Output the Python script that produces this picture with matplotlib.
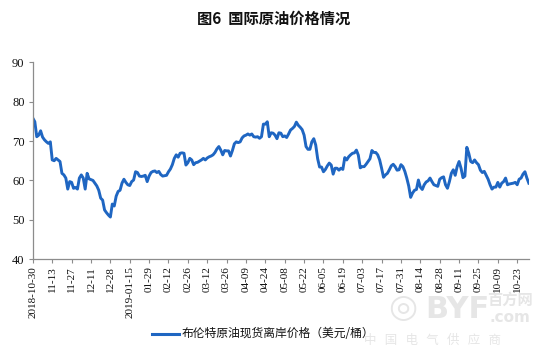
import matplotlib
matplotlib.use("Agg")
import matplotlib.pyplot as plt
from matplotlib.lines import Line2D

title = "图6  国际原油价格情况"
series_name = "布伦特原油现货离岸价格（美元/桶）"

tick_labels = ["2018-10-30", "11-13", "11-27", "12-11", "12-28", "2019-01-15",
               "01-29", "02-12", "02-26", "03-12", "03-26", "04-09", "04-24",
               "05-08", "05-22", "06-05", "06-19", "07-03", "07-17", "07-31",
               "08-14", "08-28", "09-11", "09-25", "10-09", "10-23"]
tick_step = 10

brent = [
    75.8, 74.9, 71.1, 71.5, 72.6, 71.0, 70.3, 69.8, 69.4, 69.8,
    65.2, 65.0, 65.6, 65.2, 64.8, 61.8, 61.4, 60.6, 57.8, 59.7,
    59.5, 58.0, 58.2, 57.8, 60.6, 61.4, 60.6, 57.8, 61.8, 60.4,
    60.2, 60.0, 59.3, 58.6, 57.5, 55.5, 55.0, 52.5, 51.8, 51.2,
    50.7, 54.0, 53.5, 56.0, 57.2, 57.5, 59.3, 60.3, 59.5, 58.9,
    58.7, 59.7, 60.1, 62.2, 62.0, 61.1, 61.0, 61.1, 61.3, 59.7,
    61.1, 62.0, 62.3, 62.4, 62.0, 62.3, 61.5, 61.1, 61.2, 61.3,
    62.2, 62.9, 64.0, 65.6, 66.5, 65.9, 66.9, 67.0, 66.9, 63.9,
    64.5, 65.6, 65.2, 64.0, 64.5, 64.6, 64.9, 65.2, 65.6, 65.2,
    65.7, 66.0, 66.2, 66.5, 67.1, 68.0, 68.6, 67.7, 66.5, 67.6,
    67.5, 67.5, 66.2, 67.6, 69.3, 69.8, 69.6, 69.8, 70.8, 71.3,
    71.5, 71.8, 71.5, 71.8, 71.1, 71.0, 71.1, 70.7, 71.1, 74.3,
    74.3, 74.9, 71.1, 72.1, 72.0, 71.5, 70.6, 72.1, 72.0, 71.1,
    71.3, 70.9, 71.8, 72.8, 73.2, 73.7, 74.8, 74.0, 73.5, 72.9,
    71.5, 68.6, 67.9, 67.9, 69.8, 70.6, 69.0, 65.5, 63.4, 63.4,
    62.2, 62.8, 63.7, 64.4, 63.9, 61.6, 63.1, 63.1, 62.6, 63.1,
    62.8, 65.8, 65.2, 66.0, 66.5, 66.9, 67.0, 67.7, 66.4, 63.2,
    63.5, 63.5, 64.1, 64.8, 65.5, 67.6, 67.1, 67.1, 66.5, 65.2,
    63.1, 60.8, 61.4, 61.8, 62.7, 63.7, 64.1, 63.5, 62.6, 62.7,
    64.0, 63.5, 62.3, 60.6, 58.6, 55.7, 56.8, 57.5, 57.7, 60.1,
    58.3, 57.7, 58.9, 59.6, 59.9, 60.6, 59.7, 58.9, 58.7, 58.5,
    60.3, 60.7, 60.9, 58.9, 58.0, 59.7, 61.8, 62.7, 61.3, 63.5,
    64.8, 63.1, 60.7, 61.1, 68.4, 66.9, 64.8, 64.5, 65.2, 64.5,
    64.0, 62.6, 62.0, 62.3, 61.3, 60.3, 58.9, 57.8, 58.3, 58.3,
    59.5, 58.3, 59.3, 59.7, 60.6, 58.9, 59.1, 59.2, 59.3, 59.5,
    58.9, 60.3, 60.6, 61.6, 62.2, 60.6, 59.3,
]

cjk = ["Noto Sans CJK SC", "DejaVu Sans"]

fig = plt.figure(figsize=(5.48, 3.56), dpi=100)
ax = fig.add_axes([0.060, 0.272, 0.905, 0.553])

x = list(range(len(brent)))
ax.plot(x, brent, color="#1F66C2", lw=2.1, solid_joinstyle="round")

ax.set_ylim(40, 90)
ax.set_yticks([40, 50, 60, 70, 80, 90])
ax.set_xlim(0, len(brent) - 1)
ax.set_xticks([i * tick_step for i in range(len(tick_labels))])
ax.set_xticklabels(tick_labels, rotation=90, fontsize=8, family="Liberation Serif")
for lbl in ax.get_yticklabels():
    lbl.set_family("Liberation Serif")
    lbl.set_fontsize(9)

for s in ["top", "right"]:
    ax.spines[s].set_visible(False)
for s in ["left", "bottom"]:
    ax.spines[s].set_color("#8c8c8c")
    ax.spines[s].set_linewidth(0.9)
ax.tick_params(axis="both", colors="#8c8c8c", length=3, width=0.8, labelcolor="#111111")
ax.tick_params(axis="x", pad=2)
ax.tick_params(axis="y", pad=3)

fig.text(0.5, 0.948, title, ha="center", va="center", fontsize=11,
         fontweight="bold", family=cjk, color="#111111")

# legend
fig.add_artist(Line2D([0.278, 0.326], [0.062, 0.062], color="#1F66C2", lw=2.2,
                      transform=fig.transFigure))
fig.text(0.332, 0.062, series_name, ha="left", va="center", fontsize=8.5,
         family=cjk, color="#111111")

# watermark
wm = "#e6e6e6"
fig.text(0.735, 0.135, "◎", ha="center", va="center", fontsize=24,
         color=wm, family="DejaVu Sans")
fig.text(0.835, 0.13, "BYF", ha="center", va="center", fontsize=22,
         fontweight="bold", color=wm, family="DejaVu Sans")
fig.text(0.93, 0.158, "百方网", ha="center", va="center", fontsize=11,
         fontweight="bold", color=wm, family=cjk)
fig.text(0.93, 0.108, ".com", ha="center", va="center", fontsize=11,
         fontweight="bold", color=wm, family="DejaVu Sans")
fig.text(0.79, 0.045, "中   国   电   气   供   应   商", ha="center", va="center",
         fontsize=9, color=wm, family=cjk, style="italic")

fig.savefig("out.png", dpi=100)
